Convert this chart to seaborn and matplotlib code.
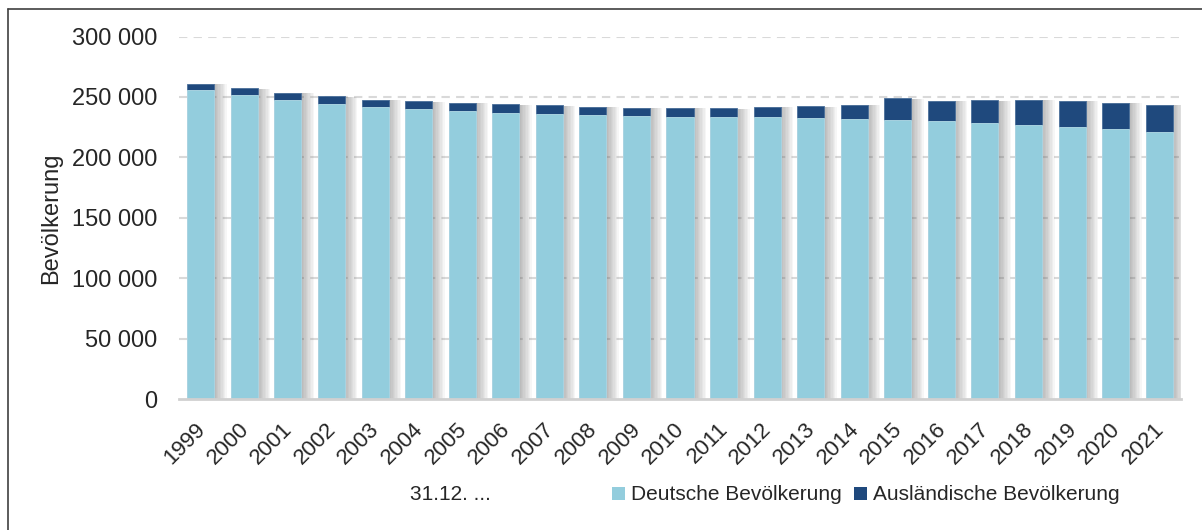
import pandas as pd
import seaborn as sns
import matplotlib.pyplot as plt
import matplotlib.patheffects as pe
from matplotlib.ticker import FuncFormatter
from matplotlib.patches import Patch
from matplotlib.lines import Line2D
from matplotlib.transforms import ScaledTranslation

# Bevölkerung am 31.12.
years = [str(y) for y in range(1999, 2022)]
deutsche = [255800, 251400, 247500, 244200, 241400, 240100, 238500, 237000, 236000, 234800,
            234000, 233800, 233500, 233200, 232700, 232100, 231300, 230200, 228800, 227200,
            225500, 223300, 221100]
auslaendisch = [5200, 5700, 6100, 6600, 6400, 6600, 6700, 7200, 7100, 7000,
                7000, 7200, 7300, 8600, 9600, 11600, 17600, 16800, 18700, 20600,
                21500, 21900, 22600]

df = pd.DataFrame({'Jahr': years, 'Deutsche': deutsche, 'Auslaendisch': auslaendisch})
df['Gesamt'] = df['Deutsche'] + df['Auslaendisch']

c_de = '#93CDDD'
c_aus = '#1F497D'

sns.set_style('white')
plt.rcParams['font.family'] = ['Liberation Sans', 'DejaVu Sans']

fig = plt.figure(figsize=(12.02, 5.30), dpi=100)
ax = fig.add_axes([179 / 1202, 1 - 399.3 / 530, 1002 / 1202, 362.8 / 530])

# gridlines behind bars
for v in [50000, 100000, 150000, 200000, 250000, 300000]:
    ax.axhline(v, color='#d9d9d9', lw=1.5, ls=(0, (4, 3)), zorder=0)

sns.barplot(data=df, x='Jahr', y='Gesamt', order=years, color=c_aus, width=0.62,
            saturation=1, ax=ax, zorder=2, edgecolor='#4a6f9a', linewidth=0.6)
# soft shadow on the right side of each bar
shadow = [pe.SimplePatchShadow(offset=(k, -0.4), shadow_rgbFace='#606060', alpha=0.055)
          for k in range(9, 0, -1)] + [pe.Normal()]
for p in ax.patches:
    p.set_path_effects(shadow)
sns.barplot(data=df, x='Jahr', y='Deutsche', order=years, color=c_de, width=0.62,
            saturation=1, ax=ax, zorder=3, edgecolor='#b5dde8', linewidth=0.6)

ax.set_ylim(0, 300000)
ax.set_xlim(-0.5, len(years) - 0.5)
ax.set_yticks(range(0, 300001, 50000))
ax.yaxis.set_major_formatter(FuncFormatter(lambda v, _: f'{int(v):,}'.replace(',', ' ')))
ax.tick_params(axis='y', length=0, pad=15.8, labelsize=17)
ax.tick_params(axis='x', length=0, pad=6, labelsize=16)
shift = ScaledTranslation(-6 / 100, -11 / 100, fig.dpi_scale_trans)
for lab in ax.get_xticklabels():
    lab.set_rotation(45)
    lab.set_ha('right')
    lab.set_rotation_mode('anchor')
    lab.set_transform(lab.get_transform() + shift)

for s in ['top', 'right', 'left']:
    ax.spines[s].set_visible(False)
ax.spines['bottom'].set_color('#d0d0d0')
ax.spines['bottom'].set_linewidth(2)
ax.spines['bottom'].set_zorder(4)

ax.set_xlabel('')
ax.set_ylabel('Bevölkerung', fontsize=17)
ax.yaxis.set_label_coords(-0.117, 0.5)

fig.text(450 / 1202, 1 - 495 / 530, '31.12. ...', fontsize=15, ha='center', va='center')

handles = [Patch(facecolor=c_de, edgecolor='none'), Patch(facecolor=c_aus, edgecolor='none')]
fig.legend(handles, ['Deutsche Bevölkerung', 'Ausländische Bevölkerung'],
           loc='center left', bbox_to_anchor=(612 / 1202, 1 - 495 / 530), ncol=2,
           frameon=False, fontsize=15, handlelength=0.6, handleheight=0.6,
           handletextpad=0.3, columnspacing=0.6, borderaxespad=0, borderpad=0)

# outer frame (left and top)
fig.add_artist(Line2D([8 / 1202, 8 / 1202], [0, 1 - 9 / 530], transform=fig.transFigure,
                      color='#404040', lw=1.2))
fig.add_artist(Line2D([8 / 1202, 1], [1 - 9 / 530, 1 - 9 / 530], transform=fig.transFigure,
                      color='#404040', lw=1.2))

fig.savefig('out.png', dpi=100)
